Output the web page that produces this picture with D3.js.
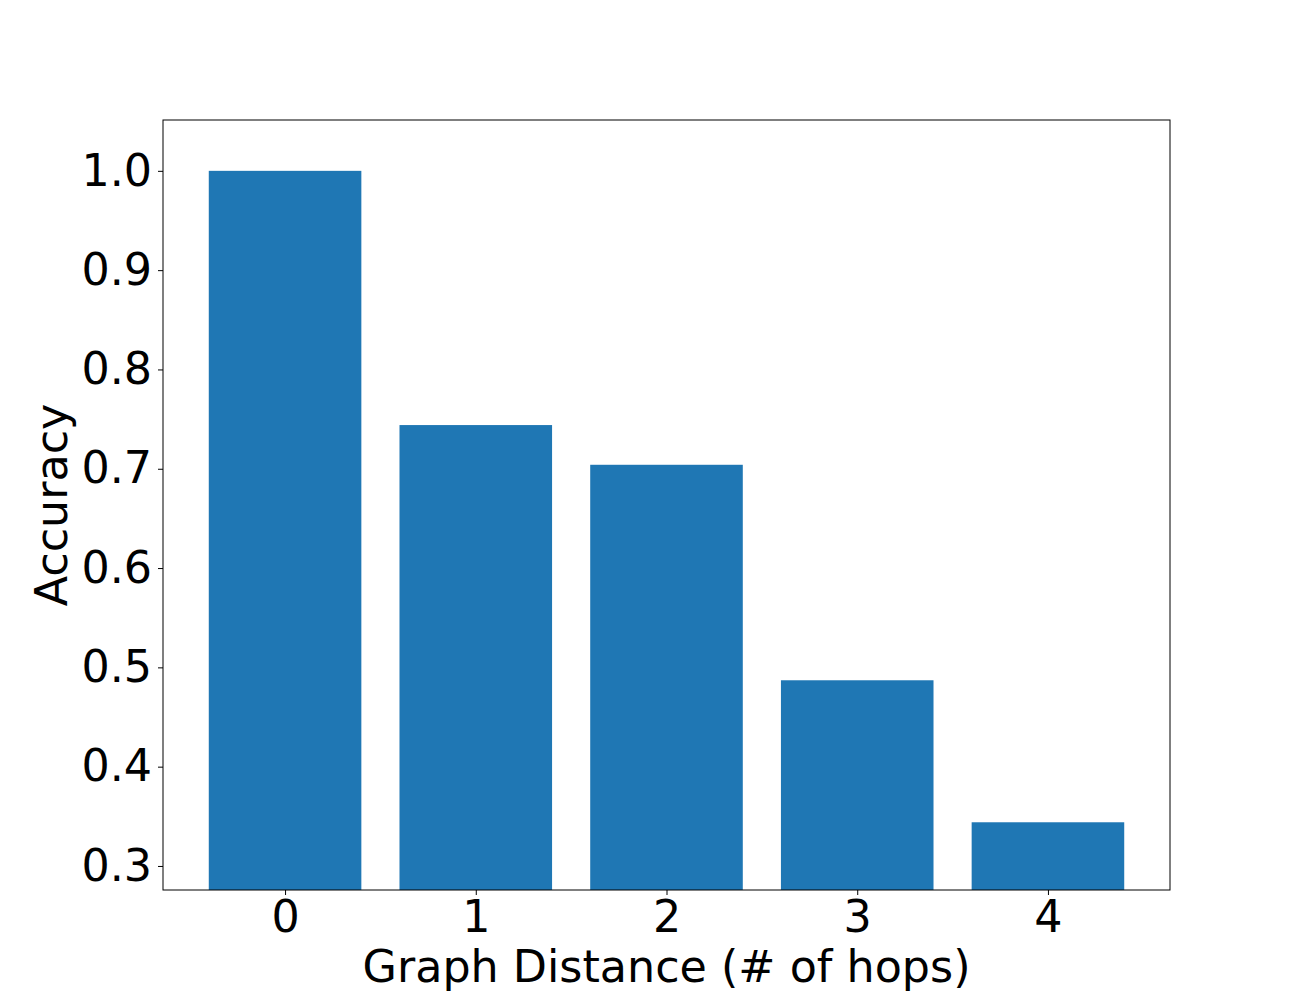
<!DOCTYPE html>
<html><head><meta charset="utf-8">
<script src="https://cdn.jsdelivr.net/npm/d3@7"></script>
<style>body{margin:0;background:#fff}</style>
</head><body>
<script>
const categories = ["0","1","2","3","4"];
const accuracy = [1.0, 0.744, 0.704, 0.487, 0.344];
const yTicks = [0.3,0.4,0.5,0.6,0.7,0.8,0.9,1.0];

const W=1300,H=1000;
const m={left:163,right:1170,top:120,bottom:890};
const FS=44.4;
const FF="'DejaVu Sans', sans-serif";
const svg=d3.select("body").append("svg").attr("width",W).attr("height",H)
  .style("font-family",FF);

const x=d3.scaleLinear().domain([-0.64,4.64]).range([m.left,m.right]);
const y=d3.scaleLinear().domain([0.2758,1.0512]).range([m.bottom,m.top]);

const g=svg.append("g");
g.append("defs").append("clipPath").attr("id","clip").append("rect")
  .attr("x",m.left).attr("y",m.top).attr("width",m.right-m.left).attr("height",m.bottom-m.top);
g.append("g").attr("clip-path","url(#clip)").selectAll("rect").data(accuracy).enter().append("rect")
  .attr("x",(d,i)=>x(i-0.4)).attr("width",(d,i)=>x(i+0.4)-x(i-0.4))
  .attr("y",d=>y(d)).attr("height",d=>y(0)-y(d))
  .attr("fill","#1f77b4");

const xAxis=d3.axisBottom(x).tickValues(d3.range(categories.length)).tickFormat(i=>categories[i])
  .tickSizeInner(5).tickSizeOuter(0).tickPadding(5);
const gx=svg.append("g").attr("transform",`translate(0,${m.bottom})`).call(xAxis);
gx.select(".domain").remove();
gx.selectAll("text").attr("font-size",FS).attr("fill","#000").attr("font-family",FF);
gx.selectAll("line").attr("stroke","#000").attr("stroke-width",1);

const yAxis=d3.axisLeft(y).tickValues(yTicks).tickFormat(d3.format(".1f"))
  .tickSizeInner(5).tickSizeOuter(0).tickPadding(6);
const gy=svg.append("g").attr("transform",`translate(${m.left},0)`).call(yAxis);
gy.select(".domain").remove();
gy.selectAll("text").attr("font-size",FS).attr("fill","#000").attr("font-family",FF);
gy.selectAll("line").attr("stroke","#000").attr("stroke-width",1);

svg.append("rect").attr("x",m.left).attr("y",m.top).attr("width",m.right-m.left).attr("height",m.bottom-m.top)
  .attr("fill","none").attr("stroke","#000").attr("stroke-width",1);

svg.append("text").attr("x",(m.left+m.right)/2).attr("y",982).attr("text-anchor","middle")
  .attr("font-size",FS).text("Graph Distance (# of hops)");
svg.append("text").attr("transform",`translate(67,${(m.top+m.bottom)/2}) rotate(-90)`)
  .attr("text-anchor","middle").attr("font-size",FS).text("Accuracy");
</script>
</body></html>
